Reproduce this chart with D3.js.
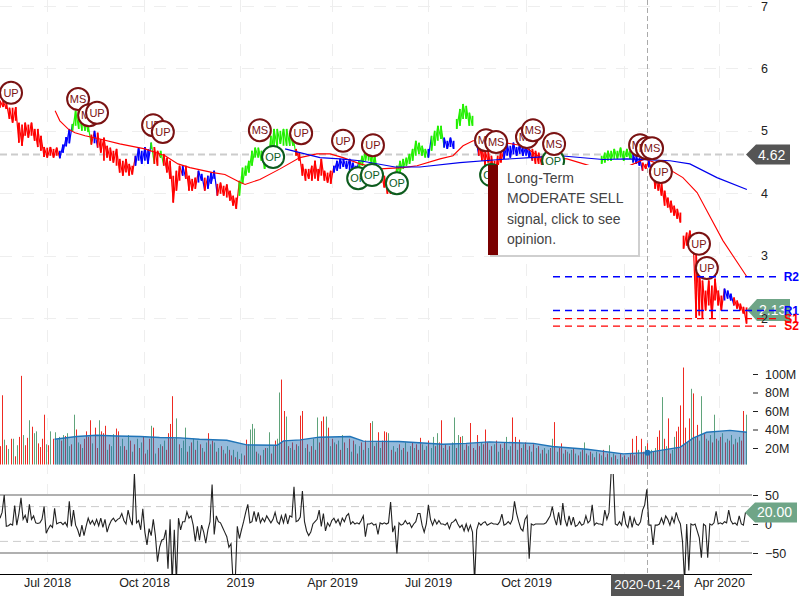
<!DOCTYPE html>
<html><head><meta charset="utf-8">
<style>html,body{margin:0;padding:0;background:#fff}svg{display:block;font-family:"Liberation Sans",Arial,sans-serif}</style>
<script src="https://cdn.jsdelivr.net/npm/d3@7/dist/d3.min.js"></script>
</head><body><svg id="c" width="800" height="600"></svg>
<script>
const priceHigh=[5.48,5.48,5.45,5.37,5.37,5.38,5.13,5.10,5.13,5.10,5.13,5.03,5.03,4.92,4.74,4.73,4.74,4.71,4.73,
4.68,4.78,4.90,5.03, 5.11,5.32,5.32,5.25,5.19,5.08, 4.94, 5.0,
4.97,4.87,4.89,4.76,4.73,4.68,4.71,4.55,4.52,4.55,4.47,4.44,
4.60,4.73,4.68,4.74,4.71, 4.81, 4.74,4.68, 4.68, 4.63,4.57,4.52,4.28,4.36,4.44, 4.44,
4.44,4.28,4.23,4.25, 4.36,4.31, 4.25, 4.28,4.33,4.36,
4.15,4.17,4.12,4.14,4.04,3.96,3.93,
4.2,4.41,4.44,4.52,4.68,4.73,4.73,4.68,4.60,4.65,4.92,5.03,5.03,5.0,5.03,5.03,4.97,4.92,
4.71,4.65,4.47,4.39,4.39,4.44,4.52,4.39,4.55,4.36,4.33,4.36,
4.44,4.52,4.55,4.55,4.52,4.55,4.49,4.44,
4.52,4.6,4.68,4.71,4.68,4.6,
4.44,4.33,4.28,4.2,4.15,4.28,
4.44,4.52,4.55,4.57,4.63,4.71,4.84,4.81,4.76,4.71,
4.71,
4.92,5.0,5.08,5.08,
4.89,4.84,4.89,4.84,
5.19,5.35,5.43,5.4,5.29,5.24,
4.89,
4.84,4.76,4.68,4.68,4.6,4.52,4.6,4.68,
4.71,4.79,4.76,4.81,4.74,4.79,4.74,4.76,4.71,
4.71,4.68,4.65,4.6,4.63,4.6,4.57,
4.3,4.28,4.32,4.3,4.26,4.3,4.28,4.32,4.3,4.28,4.32,4.3,4.34,4.32,4.36,
4.6,4.65,4.68,4.68,4.71,4.68,4.73,4.68,4.71,4.68,
4.63,4.6,4.57,
4.49,4.47,
4.52,
4.46,4.28,4.23,4.17,4.04,3.93,3.88,3.8,3.75,3.69,
3.32,3.37,3.4,3.32,
3.08,2.84,2.6,2.44,2.6,2.52,2.63,2.44,2.36,
2.47,2.44,2.39,
2.33,2.28,2.23,2.18,2.17];
const priceLow=[5.37,5.38,5.35,5.19,5.13,5.16,4.81,4.76,4.92,4.89,4.92,4.84,4.74,4.68,4.58,4.57,4.60,4.57,4.60,
4.56,4.65,4.75,4.80, 5.0,5.08,5.03,5.0,5.0,4.98, 4.78, 4.8,
4.73,4.65,4.52,4.57,4.52,4.49,4.44,4.33,4.28,4.33,4.28,4.30,
4.44,4.52,4.47,4.52,4.47, 4.71, 4.47,4.44, 4.57, 4.44,4.33,4.23,3.85,4.04,4.2, 4.28,
4.23,4.04,4.04,4.07, 4.17,4.2, 4.04, 4.07,4.15,4.23,
3.96,3.99,3.96,3.93,3.88,3.80,3.75,
3.96,4.15,4.28,4.33,4.44,4.57,4.57,4.52,4.39,4.44,4.6,4.76,4.73,4.79,4.76,4.76,4.76,4.76,
4.6,4.52,4.28,4.2,4.23,4.2,4.23,4.2,4.28,4.2,4.17,4.15,
4.33,4.36,4.39,4.42,4.39,4.36,4.33,4.33,
4.39,4.44,4.52,4.52,4.44,4.39,
4.28,4.17,4.09,3.99,3.99,4.07,
4.28,4.33,4.39,4.44,4.47,4.52,4.6,4.63,4.6,4.57,
4.57,
4.68,4.76,4.84,4.87,
4.73,4.71,4.74,4.71,
5.03,5.08,5.19,5.19,5.08,5.08,
4.76,
4.6,4.52,4.44,4.49,4.36,4.23,4.39,4.49,
4.55,4.6,4.57,4.62,4.6,4.63,4.6,4.6,4.57,
4.52,4.47,4.47,4.44,4.47,4.44,4.42,
4.1,4.1,4.12,4.1,4.08,4.1,4.1,4.12,4.1,4.1,4.12,4.1,4.14,4.12,4.16,
4.47,4.49,4.52,4.52,4.55,4.55,4.57,4.52,4.58,4.55,
4.49,4.47,4.44,
4.36,4.39,
4.41,
4.33,4.07,4.04,3.96,3.8,3.77,3.69,3.64,3.59,3.53,
3.11,3.16,3.24,3.08,
2.0,2.04,2.0,2.12,2.2,2.0,2.28,2.2,2.12,
2.28,2.31,2.28,
2.2,2.15,2.12,2.07,1.91];
const signalRunColors=["red","blue","green","red","blue","red","blue","green","red","green","red","blue","red","blue","red","blue","red","green","red","blue","green","red","green","blue","green","blue","green","blue","red","blue","red","blue","green","blue","red","blue","red","blue","red"];
const signalRunLengths=[19,4,6,1,1,12,5,1,2,1,6,1,4,2,1,3,7,18,12,8,6,6,10,1,4,4,6,1,8,9,7,15,10,3,2,1,23,3,5];

const maRedIdx=[17.5,19,21.6,23.8,27,31.7,38,46,52.4,56.5,60.3,67.6,71.4,76,77.8,82.5,88.9,95.2,100.6,104.8,108.9,114.3,120.6,127.9,132.4,139.7,143.8,147,150.2,156.5,166,171.4,180,190.5,198.4,204.8,210.5,216.8,221.3,224.4,229.5,237.1];
const maRed=[5.32,5.16,5.03,4.97,4.92,4.87,4.79,4.71,4.60,4.47,4.41,4.33,4.30,4.18,4.14,4.22,4.39,4.57,4.63,4.63,4.57,4.47,4.39,4.41,4.44,4.55,4.6,4.76,4.84,4.84,4.76,4.58,4.55,4.39,4.41,4.55,4.44,4.25,4.01,3.72,3.24,2.66];
const maBlueIdx=[90.5,95.2,101.6,107.9,114.3,125.4,133.3,146,158.7,168.3,177.8,191.4,199,212.7,219,227.6,237.1];
const maBlue=[4.71,4.65,4.57,4.55,4.52,4.42,4.42,4.49,4.54,4.57,4.6,4.54,4.55,4.52,4.47,4.25,4.06];

const badgeLabels=["UP","MS","MS","UP","UP","UP","MS","OP","UP","UP","UP","OP","OP","OP","OP","MS","MS","MS","MS","OP","MS","MS","MS","MS","UP","UP","UP"];
const badgeIdx=[3.5,24.8,28.3,30.8,48.6,51.7,82.5,86.7,95.6,108.9,118.4,113.7,118.1,126,155.9,154.3,157.5,167.3,169.2,175.6,175.9,203.2,205.4,207,209.8,221.9,224.4];
const badgePrice=[5.61,5.51,5.25,5.29,5.09,4.98,5.01,4.58,4.96,4.84,4.77,4.24,4.29,4.16,4.29,4.85,4.82,4.9,5.01,4.52,4.79,4.77,4.72,4.72,4.34,3.19,2.8];

const pivotNames=["R2","R1","S1","S2"];
const pivotValues=[2.66,2.12,1.99,1.87];
const pivotColors=["#0000ff","#0000ff","#ff0000","#ff0000"];

// signed volumes in millions: positive red, negative green
const volumes=[22,77,-29,23,-19,30,-30,11,-23,32,
98,-34,23,31,-50,43,-36,-38,25,21,
30,56,-24,23,-38,30,-37,-29,-32,28,
-34,33,-36,-22,24,-56,40,-26,24,-20,
30,38,32,50,-25,42,20,-50,38,36,
44,-18,24,-22,-35,41,38,-22,-30,22,
18,-34,28,-16,24,-30,20,-26,32,14,
-18,30,-44,42,-14,20,-24,22,-28,18,
36,46,76,-30,-52,24,-20,-28,-42,16,
-22,26,-30,18,-28,24,-20,16,-26,36,
-24,28,-26,16,-20,22,-18,14,-22,18,
12,-18,10,-16,8,-14,12,29,-24,-40,
-46,-41,16,-14,12,-18,20,-20,-37,14,
-22,28,-30,-80,94,60,-54,22,-20,26,
-18,24,-22,55,60,-20,24,-16,22,-30,
18,-53,26,49,54,-54,42,-22,30,-26,
24,-28,18,-34,26,-20,30,-16,28,-24,
14,-22,26,-18,28,-20,47,-49,22,-26,
37,-20,28,38,37,-36,18,-22,16,-20,
24,-18,20,-26,16,-22,26,-20,24,18,
31,-24,18,-22,28,-20,-32,22,-36,26,
50,-20,24,-18,22,-26,-53,20,-34,32,
-33,18,24,-22,47,20,-18,34,22,-26,
24,40,26,-18,22,-24,28,-16,24,-20,
26,-32,18,-22,53,32,-18,29,20,-24,
26,-18,22,-16,24,-20,22,-14,18,-20,
14,-18,20,-30,48,-16,20,25,-14,18,
-16,14,-18,20,-14,12,-16,18,-26,14,
-12,16,-14,10,-16,14,-12,18,-10,14,
-23,10,-14,12,-8,14,-10,12,-8,10,
14,30,12,33,-18,30,16,-22,25,14,
-18,16,-20,32,39,-75,30,-22,52,14,
-18,-32,38,43,66,107,42,-26,52,-84,
79,-32,45,-28,-76,35,-30,28,-34,26,
-56,30,-28,32,-36,26,-30,28,-34,24,
-30,26,-32,28,60,-56];
const volMAIdx=[26,36.5,46,55.5,66.7,76,85.7,95,108,117.5,132,135,143,152,166.7,173,190,211,222,233,254,263,279.5,296.8,308,324,330,336.5,347.6,355.7];
const volMA=[29.5,32.4,33.8,33,32.4,31.3,31,29.5,28.4,23.4,23,27.7,28.8,31.7,32.4,27.4,27,24,25,26.6,25,21.6,18.7,13.7,15,20.9,30.6,37,39,37];

const momentum=[10,20,50,-4,-3,0,-2,32,-2,18,
45,8,15,2,34,8,14,2,1,2,
8,30,-16,-8,-2,-6,27,0,2,3,
-1,3,-4,39,-4,24,-2,-10,-22,-2,
-20,-4,10,0,6,-2,8,-3,10,-6,
8,-14,-2,6,10,4,8,10,18,6,
0,24,8,-2,87,2,6,-10,26,-14,
-36,-8,-20,8,-20,-65,-40,-28,-26,-10,
-77,8,-100,-10,-100,10,-10,4,4,21,
10,14,-2,-30,-4,-28,-2,-14,-33,-10,
4,68,-18,14,4,2,-6,-14,-22,-40,
-34,-100,-100,-4,-25,-10,4,20,34,2,
4,22,4,20,2,10,4,14,8,2,
8,20,4,0,14,2,18,0,14,12,
64,4,6,12,57,4,-12,-20,-14,0,
4,8,24,-4,18,-12,2,-4,6,10,
2,8,-2,10,4,14,18,0,4,0,
2,0,6,14,-22,0,0,2,-2,0,
-18,2,0,2,0,2,38,-14,-3,-51,
2,-2,0,6,0,2,-6,0,4,18,
18,-2,-14,0,33,8,-2,8,0,6,
0,0,-2,2,-8,2,4,8,0,-6,
-2,-12,0,-12,-2,-14,-100,-10,2,-2,
2,4,-2,0,2,0,0,-1,4,17,
-2,0,4,0,8,39,18,4,-8,-12,
8,14,-60,0,-2,0,0,0,0,0,
2,8,14,30,10,-2,20,-2,36,8,
-4,14,-2,12,-4,-2,4,-2,0,14,
2,6,33,-2,2,0,0,-2,24,8,
20,88,88,0,-2,4,-2,22,0,-6,
14,-6,10,0,-2,4,24,33,60,-2,
-2,-36,-2,-2,0,10,0,14,8,-2,
12,2,20,8,0,-30,-100,0,-80,0,
-2,0,-12,-24,-58,0,-3,-58,0,-2,
2,22,0,2,0,4,2,24,6,0,
2,-2,14,0,-2,20];

const priceTicks=[2,3,4,5,6,7];
const volumeTicks=[20,40,60,80,100];
const momentumTicks=[-50,0,50];
const momentumSolid=[50,-50];
const momentumDashed=[30,-30];
const timeGridDates=["2018-07-01","2018-10-01","2019-01-01","2019-04-01","2019-07-01","2019-10-01","2020-01-01","2020-04-01"];
const timeTickDates=["2018-07-01","2018-10-01","2019-01-01","2019-04-01","2019-07-01","2019-10-01","2020-04-01"];
const timeTickLabels=["Jul 2018","Oct 2018","2019","Apr 2019","Jul 2019","Oct 2019","Apr 2020"];
const tooltipLines=["Long-Term","MODERATE SELL","signal, click to see","opinion."];
const crossDate="2020-01-24", crossLabel="2020-01-24";
const lastPrice=4.62, lastPriceLabel="4.62";
const quotePrice=2.13, quoteLabel="2.13";
const lastMomentum=20, lastMomentumLabel="20.00";
const crossVolume=15;

const DAY=864e5, parse=d3.timeParse("%Y-%m-%d");
const start=parse("2018-05-17");
const x=d3.scaleTime().domain([start,new Date(+start+720*DAY)]).range([0,756]);
const xAxisScale=d3.scaleTime().domain(timeGridDates.map(parse)).range([47,144,240,332,428,526,624,719]);
const px=i=>x(new Date(+start+i*3*DAY));   // price samples: one per three days
const vx=i=>x(new Date(+start+i*2*DAY));   // volume / momentum samples: one per two days
const yP=d3.scaleLinear().domain([2,7]).range([318,6]);
const yV=d3.scaleLinear().domain([0,100]).range([466.5,374]);
const yM=d3.scaleLinear().domain([-50,50]).range([553,495]);

const svg=d3.select("#c");
const defs=svg.append("defs");
defs.append("clipPath").attr("id","clipV").append("rect").attr("x",0).attr("y",330).attr("width",752).attr("height",134.5);
defs.append("clipPath").attr("id","clipM").append("rect").attr("x",0).attr("y",474).attr("width",752).attr("height",100);

// grid
const grid=svg.append("g").attr("stroke","#eeeeee").attr("stroke-width",1).attr("stroke-dasharray","12,10");
grid.selectAll("line.v").data(timeGridDates).join("line").attr("class","v")
  .attr("x1",d=>Math.round(xAxisScale(parse(d)))+.5).attr("x2",d=>Math.round(xAxisScale(parse(d)))+.5).attr("y1",0).attr("y2",574);
grid.selectAll("line.h").data(priceTicks).join("line").attr("class","h")
  .attr("x1",0).attr("x2",752).attr("y1",d=>Math.round(yP(d))+.5).attr("y2",d=>Math.round(yP(d))+.5);

// momentum levels
const mg=svg.append("g");
mg.selectAll("line.s").data(momentumSolid).join("line").attr("class","s").attr("x1",0).attr("x2",752)
  .attr("y1",d=>yM(d)).attr("y2",d=>yM(d)).attr("stroke","#b0b0b0").attr("stroke-width",2);
mg.selectAll("line.d").data(momentumDashed).join("line").attr("class","d").attr("x1",0).attr("x2",752)
  .attr("y1",d=>yM(d)).attr("y2",d=>yM(d)).attr("stroke","#cccccc").attr("stroke-width",1).attr("stroke-dasharray","8,5");

// crosshair
const cx=Math.round(xAxisScale(parse(crossDate)))-.5;
svg.append("line").attr("x1",cx).attr("x2",cx).attr("y1",0).attr("y2",574).attr("stroke","#aaaaaa").attr("stroke-dasharray","5,3");
svg.append("line").attr("x1",0).attr("x2",746).attr("y1",yP(lastPrice)).attr("y2",yP(lastPrice)).attr("stroke","#cccccc").attr("stroke-width",2).attr("stroke-dasharray","7,4");

// price bars with connecting strokes between neighbouring samples
const colorOf=[];
signalRunColors.forEach((c,k)=>{for(let n=0;n<signalRunLengths[k];n++)colorOf.push(c);});
const palette={red:"#ff0000",blue:"#0000ff",green:"#22f000"};
const priceG=svg.append("g");
priceG.selectAll("line.link").data(priceHigh.slice(0,-1)).join("line").attr("class","link")
  .each(function(d,i){
    const up=priceHigh[i+1]>d, skip=priceHigh[i+1]<priceLow[i]-0.1||priceLow[i+1]>d+0.1;
    d3.select(this).attr("x1",px(i)).attr("x2",px(i+1))
      .attr("y1",yP(up?priceLow[i]:d)).attr("y2",yP(up?priceHigh[i+1]:priceLow[i+1]))
      .attr("stroke",skip?"none":palette[colorOf[i]||"red"]).attr("stroke-width",1.2);
  });
priceG.selectAll("line.bar").data(priceHigh).join("line").attr("class","bar")
  .attr("x1",(d,i)=>px(i)).attr("x2",(d,i)=>px(i))
  .attr("y1",d=>yP(d)).attr("y2",(d,i)=>yP(priceLow[i]))
  .attr("stroke",(d,i)=>palette[colorOf[i]||"red"]).attr("stroke-width",1.8);

// moving averages
const lineOf=(idx,vals)=>d3.line().x((d,i)=>px(idx[i])).y(d=>yP(d))(vals);
svg.append("path").attr("d",lineOf(maRedIdx,maRed)).attr("fill","none").attr("stroke","#ff0000").attr("stroke-width",1.1);
svg.append("path").attr("d",lineOf(maBlueIdx,maBlue)).attr("fill","none").attr("stroke","#0000ee").attr("stroke-width",1.2);

// badges
const badges=svg.append("g").selectAll("g").data(badgeLabels).join("g")
  .attr("transform",(d,i)=>`translate(${px(badgeIdx[i])},${yP(badgePrice[i])})`);
badges.append("circle").attr("r",11).attr("fill","#fff").attr("stroke",d=>d==="OP"?"#0d5c1e":"#7a1212").attr("stroke-width",2);
badges.append("text").text(d=>d).attr("text-anchor","middle").attr("dy","0.36em").attr("font-size",11)
  .attr("fill",d=>d==="OP"?"#0d5c1e":"#7a1212");

// volume
const vol=svg.append("g").attr("clip-path","url(#clipV)");
vol.selectAll("line").data(volumes).join("line")
  .attr("x1",(d,i)=>Math.round(vx(i))+.5).attr("x2",(d,i)=>Math.round(vx(i))+.5).attr("y1",yV(0)).attr("y2",d=>yV(Math.abs(d)))
  .attr("stroke",d=>d>0?"#ee2a22":"#5fa37a").attr("stroke-width",1);
vol.append("path").attr("d",d3.area().x((d,i)=>vx(volMAIdx[i])).y0(yV(0)).y1(d=>yV(d))(volMA)).attr("fill","#1f6fb4").attr("fill-opacity",.48);
vol.append("path").attr("d",d3.line().x((d,i)=>vx(volMAIdx[i])).y(d=>yV(d))(volMA)).attr("fill","none").attr("stroke","#1f74b8").attr("stroke-width",1.4);
svg.append("circle").attr("cx",cx).attr("cy",yV(crossVolume)).attr("r",3).attr("fill","#1f6fb4");

// momentum
svg.append("g").attr("clip-path","url(#clipM)").append("path")
  .attr("d",d3.line().x((d,i)=>vx(i)).y(d=>yM(d))(momentum)).attr("fill","none").attr("stroke","#222").attr("stroke-width",1.1);

// pentagon labels sit under the axes text and pivots
function pentagon(yc,h,x0,x1,fill,label,fs){
  const p=d3.path();p.moveTo(x0,yc);p.lineTo(x0+10,yc-h/2);p.lineTo(x1,yc-h/2);p.lineTo(x1,yc+h/2);p.lineTo(x0+10,yc+h/2);p.closePath();
  svg.append("path").attr("d",p.toString()).attr("fill",fill);
  svg.append("text").text(label).attr("x",x0+12).attr("y",yc).attr("dy","0.36em").attr("font-size",fs).attr("fill","#fff");
}

// axes
function styleAxis(g,fs){g.select(".domain").remove();g.selectAll("text").attr("font-size",fs).attr("fill","#222").attr("font-family",'"Liberation Sans",Arial,sans-serif');g.selectAll("line").attr("stroke","#222");}
pentagon(yP(quotePrice),22,747,790,"#6fa587",quoteLabel,14);
const axP=svg.append("g").attr("transform","translate(761,0)").call(d3.axisRight(yP).tickValues(priceTicks).tickSize(0).tickPadding(0).tickFormat(d3.format("d")));
styleAxis(axP,12.5);
const axV=svg.append("g").attr("transform","translate(753,0)").call(d3.axisRight(yV).tickValues(volumeTicks).tickSize(5).tickPadding(7).tickFormat(d=>d+"M"));
styleAxis(axV,12.5);
const axM=svg.append("g").attr("transform","translate(753,0)").call(d3.axisRight(yM).tickValues(momentumTicks).tickSize(5).tickPadding(7).tickFormat(d3.format("d")));
styleAxis(axM,12.5);
const axT=svg.append("g").attr("transform","translate(0,574)").call(d3.axisBottom(xAxisScale).tickValues(timeTickDates.map(parse)).tickSize(0).tickPadding(4).tickFormat((d,i)=>timeTickLabels[i]));
styleAxis(axT,12.5);
svg.append("line").attr("x1",0).attr("x2",752).attr("y1",574.5).attr("y2",574.5).attr("stroke","#000").attr("stroke-width",1);

// pivots
const piv=svg.append("g").selectAll("g").data(pivotNames).join("g");
piv.append("line").attr("x1",553).attr("x2",776).attr("y1",(d,i)=>yP(pivotValues[i])).attr("y2",(d,i)=>yP(pivotValues[i]))
  .attr("stroke",(d,i)=>pivotColors[i]).attr("stroke-width",1.4).attr("stroke-dasharray","7,5");
piv.append("text").text(d=>d).attr("x",799).attr("text-anchor","end").attr("y",(d,i)=>yP(pivotValues[i])).attr("dy","0.36em")
  .attr("font-size",12).attr("font-weight","bold").attr("fill",(d,i)=>pivotColors[i]);

pentagon(yP(lastPrice),20,746,790,"#555555",lastPriceLabel,14);
pentagon(yM(lastMomentum),20,745,797,"#6fa587",lastMomentumLabel,14);

// date label
const dateW=73;
svg.append("rect").attr("x",cx-36.5).attr("y",574).attr("width",dateW).attr("height",22).attr("fill","#555555");
svg.append("text").text(crossLabel).attr("x",cx).attr("y",584).attr("dy","0.36em").attr("text-anchor","middle").attr("font-size",13).attr("fill","#fff");

// tooltip
const tip=svg.append("g");
tip.append("rect").attr("x",490).attr("y",167).attr("width",150).attr("height",90).attr("fill","#cfcfcf");
tip.append("rect").attr("x",488).attr("y",165).attr("width",150).attr("height",90).attr("fill","#fff");
tip.append("rect").attr("x",488).attr("y",165).attr("width",10).attr("height",90).attr("fill","#7a0000");
tip.selectAll("text").data(tooltipLines).join("text").text(d=>d).attr("x",507).attr("y",(d,i)=>183+i*20.3)
  .attr("font-size",14).attr("fill","#444");
</script></body></html>
